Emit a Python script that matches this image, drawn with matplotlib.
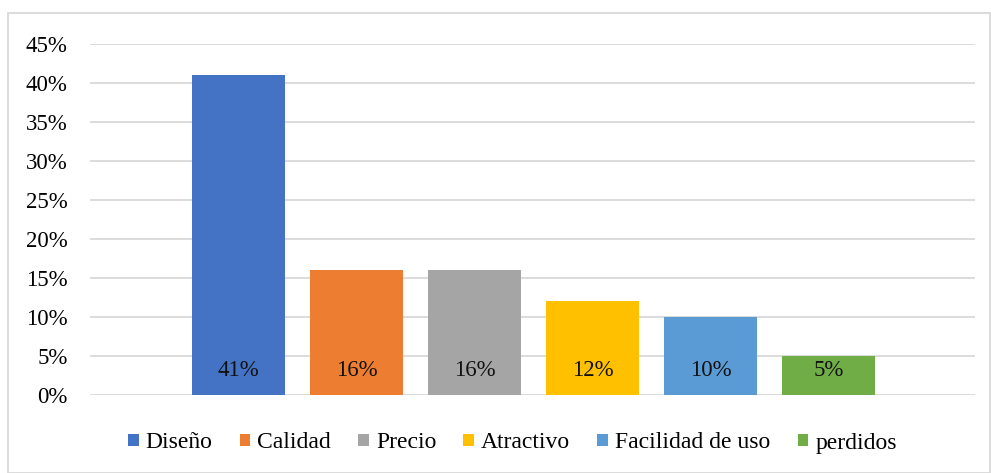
import numpy as np
import matplotlib.pyplot as plt
from matplotlib.patches import Rectangle

# Datos
categorias = ['Diseño', 'Calidad', 'Precio', 'Atractivo', 'Facilidad de uso', 'perdidos']
valores = [0.41, 0.16, 0.16, 0.12, 0.10, 0.05]
etiquetas = ['41%', '16%', '16%', '12%', '10%', '5%']
colores = ['#4472C4', '#ED7D31', '#A5A5A5', '#FFC000', '#5B9BD5', '#70AD47']
yticks = np.arange(0, 0.46, 0.05)
ytick_labels = ['%d%%' % round(v * 100) for v in yticks]

plt.rcParams['font.family'] = 'Liberation Serif'

fig = plt.figure(figsize=(9.91, 4.73), dpi=100)
ax = fig.add_axes([90/991, 1-395/473, 885/991, 351/473])

x = np.arange(len(categorias))
for i in range(len(categorias)):
    ax.bar(x[i], valores[i], width=0.788, color=colores[i], label=categorias[i], zorder=2)
    ax.text(x[i], 0.031, etiquetas[i], ha='center', va='center', fontsize=16.5, color='#111111', zorder=3)

ax.set_xlim(-1.258, 6.242)
ax.set_ylim(0, 0.45)
ax.set_yticks(yticks)
ax.set_yticklabels(ytick_labels, fontsize=16.5)
ax.set_xticks([])
ax.tick_params(axis='y', length=0, pad=16)
ax.grid(axis='y', color='#d9d9d9', lw=1.3, zorder=0)
ax.set_axisbelow(True)
for s in ax.spines.values():
    s.set_visible(False)

fig.legend(loc='center', bbox_to_anchor=(0.517, 1-443/473), ncol=6, frameon=False,
           fontsize=17, handlelength=0.45, handleheight=0.45, handletextpad=0.3, columnspacing=1.15)

# Borde del grafico
fig.patches.append(Rectangle((8/991, 0), 982/991, 1-13/473, transform=fig.transFigure,
                             fill=False, edgecolor='#d9d9d9', lw=1.3))

plt.savefig('out.png', dpi=100)
